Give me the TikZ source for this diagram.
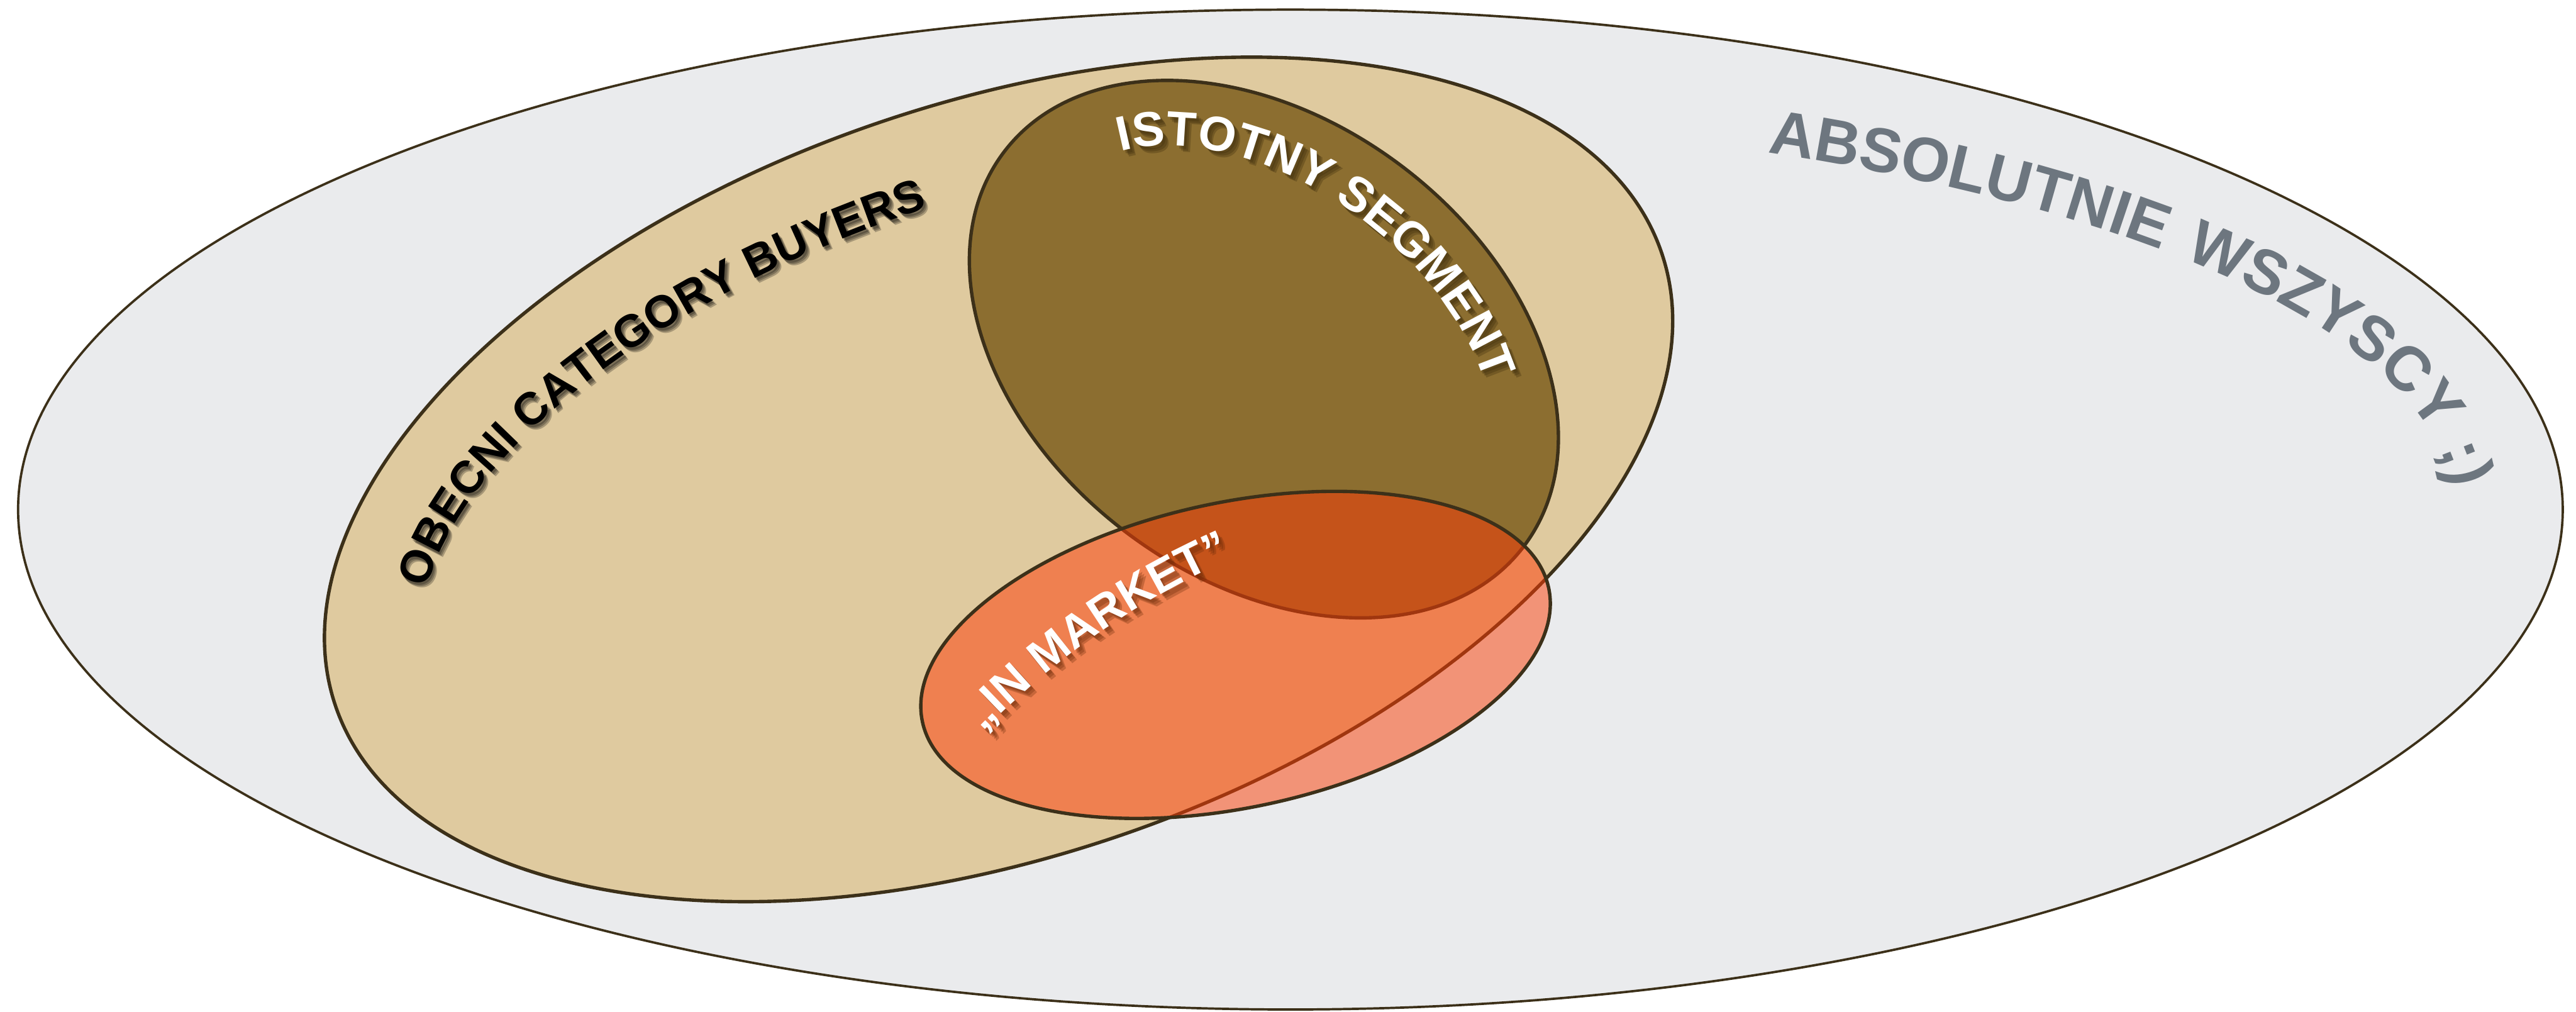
\documentclass[tikz,border=0pt]{standalone}
\usepackage{fontspec}
\setsansfont{Liberation Sans}
\usetikzlibrary{decorations.text}

\definecolor{allfill}{HTML}{EAEBED}
\definecolor{buyfill}{HTML}{DFCA9F}
\definecolor{segfill}{HTML}{8C6E30}
\definecolor{mktongray}{HTML}{F29377}
\definecolor{mktontan}{HTML}{EF8050}
\definecolor{mktonseg}{HTML}{C5531A}
\definecolor{rimdark}{HTML}{3C3019}
\definecolor{rimhot}{HTML}{A0360F}
\definecolor{allgray}{HTML}{6D767F}
\definecolor{segshade}{HTML}{3A2A0A}
\definecolor{mktshade}{HTML}{6A2A08}

\newcommand\labelfont[1]{\sffamily\bfseries\fontsize{#1}{#1}\selectfont}

% the four sets
\def\shapeall{(21.40,8.33) ellipse [x radius=21.10, y radius=8.29]}
\def\shapebuyers{[rotate around={18.9:(16.56,8.83)}] (16.56,8.83) ellipse [x radius=11.62, y radius=6.24]}
\def\shapesegment{[rotate around={-37.2:(20.96,10.99)}] (20.96,10.99) ellipse [x radius=5.41, y radius=3.80]}
\def\shapemarket{[rotate around={12.06:(20.49,5.92)}] (20.49,5.92) ellipse [x radius=5.31, y radius=2.53]}

\tikzset{
  rim/.style={draw=rimdark, line width=1.6pt},
  thinrim/.style={draw=rimdark, line width=1.1pt},
  curved/.style 2 args={decorate, decoration={text along path, text align=left,
    text color=#1, text={#2}}},
}

% curved labels, one macro each so the shadows can reuse them
\newcommand\alllabel[1]{%
  \begin{scope}[shift={(21.40,8.33)}]
    \path[curved={#1}{|\labelfont{29.5}|ABSOLUTNIE{\hspace{0.1em}} WSZYSCY ;)}]
      (65.8:19.30 and 6.49) arc[start angle=65.8, end angle=-25, x radius=19.30, y radius=6.49];
  \end{scope}}
\newcommand\buyerslabel[1]{%
  \begin{scope}[shift={(16.56,8.83)}, rotate=18.9]
    \path[curved={#1}{|\labelfont{21.5}|OBECNI CATEGORY BUYERS}]
      (163:10.0 and 4.64) arc[start angle=163, end angle=60, x radius=10.0, y radius=4.64];
  \end{scope}}
\newcommand\segmentlabel[1]{%
  \begin{scope}[shift={(20.96,10.99)}, rotate=-37.2]
    \path[curved={#1}{|\labelfont{23}|ISTOTNY SEGMENT}]
      (154.2:4.31 and 2.70) arc[start angle=154.2, end angle=0, x radius=4.31, y radius=2.70];
  \end{scope}}
\newcommand\marketlabel[1]{%
  \path[curved={#1}{|\labelfont{22}|„IN MARKET”}]
    (16.30,4.64) arc[start angle=136, end angle=105, radius=13];}

\begin{document}
\begin{tikzpicture}
  \useasboundingbox (0,0) rectangle (42.72,16.78);
  \fill[white] (0,0) rectangle (42.72,16.78);

  % everybody
  \fill[allfill]\shapeall;
  \draw[thinrim]\shapeall;

  % category buyers, with the relevant segment inside
  \fill[buyfill]\shapebuyers;
  \draw[rim]\shapebuyers;
  \fill[segfill]\shapesegment;
  \draw[rim]\shapesegment;

  % in market: tinted by whatever lies underneath
  \fill[mktongray]\shapemarket;
  \begin{scope}
    \clip\shapebuyers;
    \fill[mktontan]\shapemarket;
    \clip\shapesegment;
    \fill[mktonseg]\shapemarket;
  \end{scope}
  \begin{scope}
    \clip\shapemarket;
    \draw[rim, draw=rimhot]\shapebuyers;
    \draw[rim, draw=rimhot]\shapesegment;
  \end{scope}
  \draw[rim]\shapemarket;

  % labels
  \alllabel{allgray}

  \foreach \dx/\dy in {0.03/-0.04, 0.05/-0.06, 0.07/-0.08}{
    \begin{scope}[xshift=\dx cm, yshift=\dy cm, opacity=0.25]
      \buyerslabel{black}
    \end{scope}}
  \buyerslabel{black}

  \foreach \dx/\dy in {0.04/-0.05, 0.07/-0.08, 0.10/-0.11}{
    \begin{scope}[xshift=\dx cm, yshift=\dy cm, opacity=0.3]
      \segmentlabel{segshade}
    \end{scope}}
  \segmentlabel{white}

  \foreach \dx/\dy in {0.04/-0.05, 0.07/-0.08, 0.10/-0.11}{
    \begin{scope}[xshift=\dx cm, yshift=\dy cm, opacity=0.3]
      \marketlabel{mktshade}
    \end{scope}}
  \marketlabel{white}
\end{tikzpicture}
\end{document}
